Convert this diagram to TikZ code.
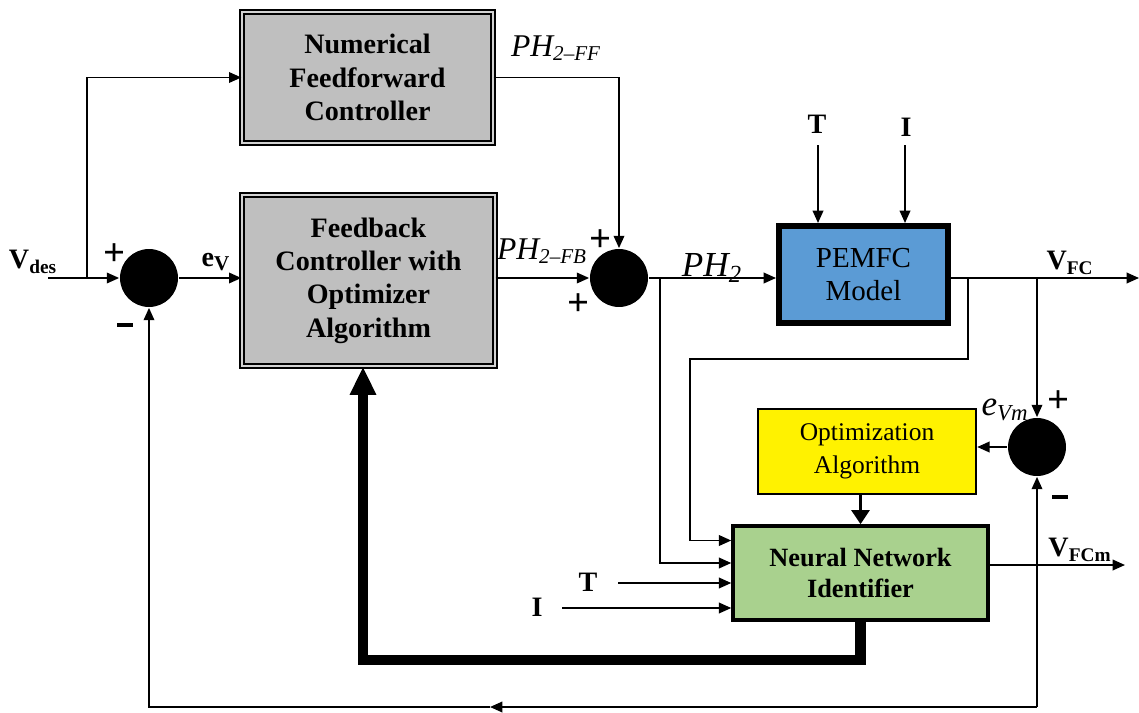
\documentclass[tikz,border=0pt]{standalone}
\usepackage{fontspec}
\setmainfont{Liberation Serif}
\usepackage{tikz}
\usetikzlibrary{arrows.meta}

\tikzset{
  tip/.style={-{Triangle[length=7pt,width=6pt]}},
  graybox/.style={draw,double=gray!35,double distance=1.6pt,line width=0.8pt,fill=gray!50,
    align=center,font=\fontsize{16}{19}\selectfont\bfseries},
  sumnode/.style={circle,fill=black,minimum size=1.16cm,inner sep=0pt},
  lbl/.style={font=\fontsize{16}{19}\selectfont\bfseries,inner sep=0pt},
  sgn/.style={font=\fontsize{22}{22}\selectfont\bfseries,inner sep=0pt}
}
\newcommand{\minussign}{\rule{9pt}{2.2pt}}

\begin{document}
\begin{tikzpicture}[x=0.02cm,y=-0.02cm,line width=1pt]
\useasboundingbox (0,0) rectangle (1139,713);

\node[graybox,minimum width=5.02cm,minimum height=2.62cm] (ff) at (367.5,77.5) {Numerical\\Feedforward\\Controller};
\node[graybox,minimum width=5.06cm,minimum height=3.42cm] (fb) at (368.5,280.5) {Feedback\\Controller with\\Optimizer\\Algorithm};
\node[sumnode] (s1) at (149,278) {};
\node[sumnode] (s2) at (619,278) {};
\node[sumnode] (s3) at (1037,447) {};
\node[draw,line width=3.4pt,fill={rgb,255:red,91;green,155;blue,213},minimum width=3.38cm,minimum height=1.94cm,
  align=center,font=\fontsize{16.5}{19}\selectfont] (pem) at (863.5,274.5) {PEMFC\\Model};
\node[draw,line width=1.4pt,fill=yellow,minimum width=4.36cm,minimum height=1.7cm,
  align=center,font=\fontsize{14.5}{19}\selectfont] (opt) at (867,451.5) {Optimization\\Algorithm};
\node[draw,line width=2pt,fill={rgb,255:red,169;green,209;blue,142},minimum width=5.1cm,minimum height=1.88cm,
  align=center,font=\fontsize{15}{17.5}\selectfont\bfseries] (nn) at (860.5,573) {Neural Network\\Identifier};

% labels
\node[lbl] (vdes) at (33,262) {V\textsubscript{\fontsize{11}{11}\selectfont des}};
\node[lbl] (ev) at (216,262) {e\textsubscript{\fontsize{12}{12}\selectfont V}};
\node[lbl] (vfc) at (1070,263) {V\textsubscript{\fontsize{11}{11}\selectfont FC}};
\node[lbl] (vfcm) at (1080,550) {V\textsubscript{\fontsize{11}{11}\selectfont FCm}};
\node[font=\fontsize{18}{18}\selectfont\itshape,inner sep=0pt] (phff) at (556,48) {PH\textsubscript{\fontsize{12}{12}\selectfont 2--FF}};
\node[font=\fontsize{18}{18}\selectfont\itshape,inner sep=0pt] (phfb) at (542,251) {PH\textsubscript{\fontsize{12}{12}\selectfont 2--FB}};
\node[font=\fontsize{20}{20}\selectfont\itshape,inner sep=0pt] (ph) at (712,268) {PH\textsubscript{2}};
\node[font=\fontsize{20}{20}\selectfont\itshape,inner sep=0pt] (evm) at (1005,410) {e\textsubscript{\fontsize{13}{13}\selectfont Vm}};
\node[lbl] (t1) at (817,124) {T};
\node[lbl] (i1) at (906,127) {I};
\node[lbl] (t2) at (588,582) {T};
\node[lbl] (i2) at (537,607) {I};
\node[sgn] (p1) at (115,255) {+};
\node[sgn] (m1) at (125,325) {\minussign};
\node[sgn] (p2) at (601,241) {+};
\node[sgn] (p3) at (579,305) {+};
\node[sgn] (p4) at (1058,402) {+};
\node[sgn] (m3) at (1060,497) {\minussign};

\coordinate (vin) at (48,278);
\coordinate (br1) at (87,278);
\coordinate (br2) at (660,278);
\coordinate (br3) at (968,278);
\coordinate (br4) at (1037,278);
\coordinate (vout) at (1139,278);
\coordinate (vmout) at (1125,565);
\coordinate (bot) at (1037,707);
\coordinate (botm) at (490,707);
\coordinate (botl) at (149,707);
\coordinate (tin) at (818,145);
\coordinate (iin) at (905,145);
\coordinate (tnn) at (618,583);
\coordinate (inn) at (562,608);
\coordinate (thk) at (363,660);

% forward path
\draw[tip] (vin) -- (s1);
\draw[tip] (br1) |- (ff.west);
\draw[tip] (s1) -- (fb.west |- s1);
\draw[tip] (ff.east) -| (s2.north);
\draw[tip] (fb.east |- s2) -- (s2);
\draw[tip] (s2) -- (pem.west |- s2);
\draw[tip] (tin) -- (tin |- pem.north);
\draw[tip] (iin) -- (iin |- pem.north);
\draw[tip] (pem.east |- vout) -- (vout);

% identifier
\draw[tip] (br3) -- (968,359) -- (690,359) |- ([yshift=0.65cm]nn.west);
\draw[tip] (br2) |- ([yshift=0.2cm]nn.west);
\draw[tip] (tnn) -- (tnn -| nn.west);
\draw[tip] (inn) -- (inn -| nn.west);
\draw[tip] (nn.east |- vmout) -- (vmout);
\draw[tip] (br4) -- (s3.north);
\draw[tip] (s3) -- (opt.east |- s3);
\draw[-{Triangle[length=8pt,width=10pt]},line width=2pt] (opt.south -| nn.north) -- (nn.north);

% feedback
\draw[line width=6pt,-{Triangle[length=16pt,width=14pt]}] (nn.south) |- (thk) -- (thk |- fb.south);
\draw[tip] (bot) -- (s3.south);
\draw[tip] (bot) -- (botm);
\draw[tip] (botm) -- (botl) -- (s1.south);
\end{tikzpicture}
\end{document}
